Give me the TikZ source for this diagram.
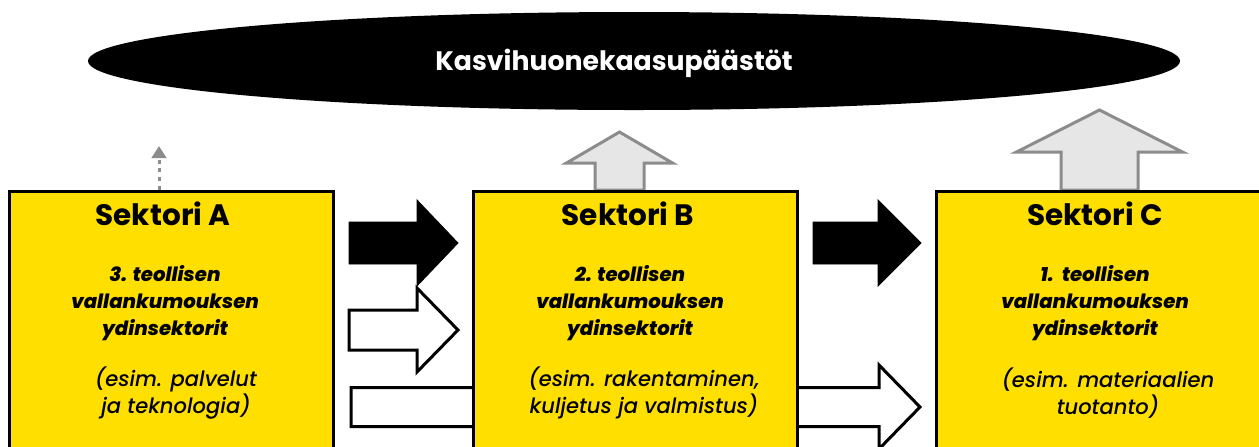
\documentclass[tikz,border=0pt]{standalone}
\usepackage{fontspec}
\setmainfont{Poppins}
\newfontfamily\poppinsmedium{Poppins Medium}
\newfontfamily\poppinsheavy{Poppins ExtraBold}
\usetikzlibrary{shapes.geometric,arrows.meta,calc,backgrounds}
\definecolor{sectoryellow}{HTML}{FFDF00}
\definecolor{upgray}{HTML}{8C8C8C}
\definecolor{upfill}{HTML}{E6E6E6}
% block arrow pointing right: style, tail, tip, shaft half, head half, head length
\newcommand{\harrow}[6]
{
  \draw[#1] ($(#2)+(0,-#4)$) -- ($(#3)+(-#6,-#4)$) -- ($(#3)+(-#6,-#5)$)
    -- (#3) -- ($(#3)+(-#6,#5)$) -- ($(#3)+(-#6,#4)$) -- ($(#2)+(0,#4)$) -- cycle;
}
% block arrow pointing up: style, tail, tip, shaft half, head half, head length
\newcommand{\varrow}[6]
{
  \draw[#1] ($(#2)+(-#4,0)$) -- ($(#3)+(-#4,#6)$) -- ($(#3)+(-#5,#6)$)
    -- (#3) -- ($(#3)+(#5,#6)$) -- ($(#3)+(#4,#6)$) -- ($(#2)+(#4,0)$) -- cycle;
}
\begin{document}
\begin{tikzpicture}
    [
      x=0.25mm,
      y=-0.25mm,
      line width=0.8mm,
      sector/.style=
      {
        draw=black,
        fill=sectoryellow,
        anchor=north west,
        inner sep=0pt,
        minimum width=81mm,
        minimum height=75mm,
      },
      sectortitle/.style=
      {
        font=\fontsize{21}{24}\selectfont\bfseries
      },
      coretext/.style=
      {
        align=center,
        inner sep=0pt,
        font=\fontsize{14}{19.2}\selectfont\poppinsheavy\itshape
      },
      exampletext/.style=
      {
        align=center,
        inner sep=0pt,
        font=\fontsize{15}{19.2}\selectfont\poppinsmedium\itshape
      },
      emission/.style=
      {
        ellipse,
        fill=black,
        inner sep=0pt,
        minimum width=273mm,
        minimum height=24.5mm,
      },
      emissiontext/.style=
      {
        text=white,
        font=\fontsize{19}{22}\selectfont\bfseries
      },
      solidarrow/.style={fill=black, draw=black, line width=0.2mm},
      openarrow/.style={fill=white, draw=black, line width=0.75mm},
      grayarrow/.style={fill=upfill, draw=upgray, line width=0.75mm},
      dottedup/.style=
      {
        draw=upgray,
        line width=0.75mm,
        dash pattern=on 1mm off 1.2mm,
        -{Triangle[width=3.6mm,length=3mm]}
      }
    ]
    \useasboundingbox (0,0) rectangle (1259,446);
    \clip (0,0) rectangle (1259,446);

    \node[emission](ghg) at (634,61) {};
    \node[emissiontext](ghgLabel) at (614,63) {Kasvihuonekaasupäästöt};

    \node[sector](A) at (7.5,190) {};
    \node[sector](B) at (472,190) {};
    \node[sector](C) at (935,190) {};

    \node[sectortitle](Atitle) at (163,214) {Sektori A};
    \node[coretext](Acore) at (165,303) {3. teollisen\\vallankumouksen\\ydinsektorit};
    \node[exampletext](Aexample) at (176,393) {(esim. palvelut\\ja teknologia)};

    \node[sectortitle](Btitle) at (628,214) {Sektori B};
    \node[coretext](Bcore) at (630,303) {2. teollisen\\vallankumouksen\\ydinsektorit};
    \node[exampletext](Bexample) at (644,393) {(esim. rakentaminen,\\kuljetus ja valmistus)};

    \node[sectortitle](Ctitle) at (1095,214) {Sektori C};
    \node[coretext](Ccore) at (1095,303) {1.\ \ teollisen\\vallankumouksen\\ydinsektorit};
    \node[exampletext](Cexample) at (1108,393) {(esim. materiaalien\\tuotanto)};

    \coordinate (abTail) at (349,243);
    \coordinate (abTip) at (458,243);
    \coordinate (abTail2) at (349,330);
    \coordinate (abTip2) at (458,330);
    \coordinate (bcTail) at (813,243);
    \coordinate (bcTip) at (921,243);
    \coordinate (acTail) at (351,407);
    \coordinate (acTip) at (920,407);
    \coordinate (bUp) at (619.5,190);
    \coordinate (bUpTip) at (619.5,132);
    \coordinate (cUp) at (1099.5,190);
    \coordinate (cUpTip) at (1099.5,110);
    \coordinate (aUp) at (159,190);
    \coordinate (aUpTip) at (159,146);

    \begin{scope}[on background layer]
      \harrow{solidarrow}{abTail}{abTip}{21}{43}{41}
      \harrow{openarrow}{abTail2}{abTip2}{20}{42}{41}
      \harrow{solidarrow}{bcTail}{bcTip}{21}{43}{43}
      \harrow{openarrow}{acTail}{acTip}{19.5}{42}{41}
      \varrow{grayarrow}{bUp}{bUpTip}{24.5}{53}{31}
      \varrow{grayarrow}{cUp}{cUpTip}{38.5}{83}{42}
      \draw[dottedup] (aUp) -- (aUpTip);
    \end{scope}
  \end{tikzpicture}
\end{document}
